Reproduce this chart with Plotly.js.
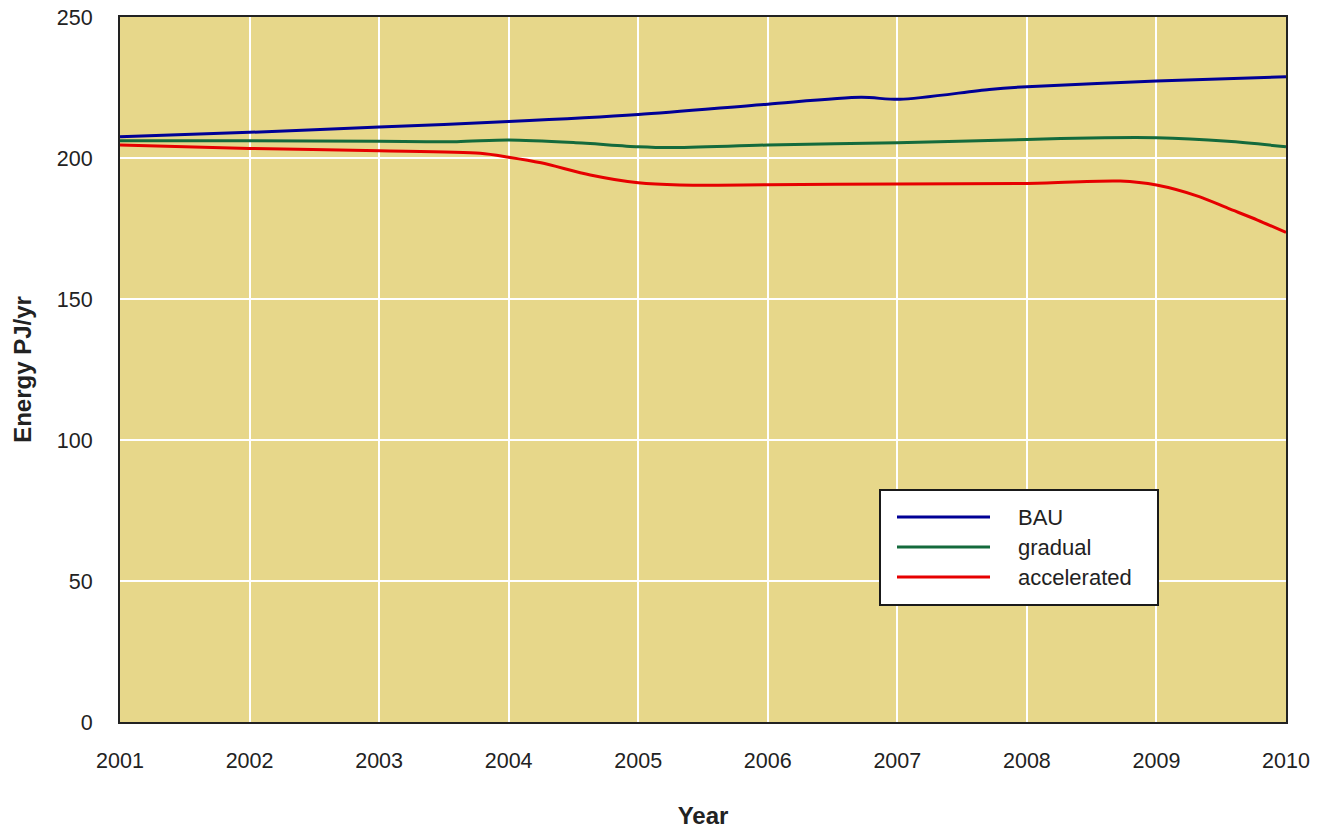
<!DOCTYPE html>
<html>
<head>
<meta charset="utf-8">
<script src="https://cdn.plot.ly/plotly-3.0.1.min.js"></script>
<style>html,body{margin:0;padding:0;background:#fff;}#chart{width:1330px;height:831px;}</style>
</head>
<body>
<div id="chart"></div>
<script>
// Data
const seriesNames = ["BAU", "gradual", "accelerated"];
const seriesColors = ["#000096", "#146a3c", "#e60000"];

const bauYears = [2001, 2002, 2003, 2004, 2005, 2006, 2006.72, 2007.02, 2007.71, 2008, 2009, 2010];
const bauValues = [207.5, 209.1, 211.0, 212.9, 215.4, 219.1, 221.5, 220.8, 224.3, 225.3, 227.3, 228.8];

const gradualYears = [2001, 2002, 2003, 2003.6, 2004, 2004.5, 2005, 2005.25, 2006, 2007, 2008, 2008.6, 2009, 2009.55, 2010];
const gradualValues = [206.1, 206.1, 205.9, 205.8, 206.4, 205.5, 204.0, 203.7, 204.6, 205.4, 206.6, 207.2, 207.2, 205.9, 204.0];

const accelYears = [2001, 2002, 2003, 2003.78, 2004, 2004.25, 2004.63, 2005, 2005.32, 2006, 2007, 2008, 2008.72, 2009, 2009.33, 2009.55, 2009.78, 2010];
const accelValues = [204.6, 203.4, 202.6, 201.7, 200.3, 198.3, 194.0, 191.2, 190.4, 190.5, 190.8, 191.0, 191.8, 190.4, 186.3, 182.2, 178.0, 173.6];

const xTickVals = [2001, 2002, 2003, 2004, 2005, 2006, 2007, 2008, 2009, 2010];
const yTickVals = [0, 50, 100, 150, 200, 250];

const seriesX = [bauYears, gradualYears, accelYears];
const seriesY = [bauValues, gradualValues, accelValues];

const traces = seriesNames.map((name, i) => ({
  type: "scatter",
  mode: "lines",
  name: name,
  x: seriesX[i],
  y: seriesY[i],
  line: {color: seriesColors[i], width: 3, shape: "spline", smoothing: 0.8},
  showlegend: false,
  hoverinfo: "x+y+name"
}));

// Custom legend box (paper coordinates)
const L = 120, R = 1286, T = 17, B = 722;
const px = v => (v - L) / (R - L);
const py = v => (B - v) / (B - T);
const shapes = [{
  type: "rect", xref: "paper", yref: "paper",
  x0: px(880), x1: px(1158), y0: py(605), y1: py(490),
  fillcolor: "#ffffff", line: {color: "#1a1a1a", width: 2}, layer: "above"
}];
const annotations = [];
seriesNames.forEach((name, i) => {
  const yy = 517 + i * 30;
  shapes.push({
    type: "line", xref: "paper", yref: "paper",
    x0: px(897), x1: px(990), y0: py(yy), y1: py(yy),
    line: {color: seriesColors[i], width: 3}, layer: "above"
  });
  annotations.push({
    xref: "paper", yref: "paper", x: px(1016), y: py(yy),
    xanchor: "left", yanchor: "middle", showarrow: false,
    text: name, font: {family: "Liberation Sans, Arial, sans-serif", size: 22, color: "#222"}
  });
});

const layout = {
  width: 1330, height: 831,
  margin: {l: 120, r: 44, t: 17, b: 109},
  paper_bgcolor: "#ffffff",
  plot_bgcolor: "#e7d78a",
  font: {family: "Liberation Sans, Arial, sans-serif", size: 21.5, color: "#222"},
  showlegend: false,
  xaxis: {
    range: [2001, 2010],
    tickvals: xTickVals,
    ticktext: xTickVals.map(String),
    showgrid: true, gridcolor: "#ffffff", gridwidth: 2,
    zeroline: false,
    showline: true, mirror: true, linecolor: "#222", linewidth: 2,
    ticks: "outside", ticklen: 18, tickcolor: "rgba(0,0,0,0)",
    tickfont: {size: 21.5, color: "#222"},
    title: {text: "<b>Year</b>", font: {size: 24, color: "#222"}, standoff: 35}
  },
  yaxis: {
    range: [0, 250],
    tickvals: yTickVals,
    showgrid: true, gridcolor: "#ffffff", gridwidth: 2,
    zeroline: false,
    showline: true, mirror: true, linecolor: "#222", linewidth: 2,
    ticks: "outside", ticklen: 21, tickcolor: "rgba(0,0,0,0)",
    tickfont: {size: 21.5, color: "#222"},
    title: {text: "<b>Energy PJ/yr</b>", font: {size: 24, color: "#222"}, standoff: 18}
  },
  shapes: shapes,
  annotations: annotations
};

Plotly.newPlot("chart", traces, layout, {displayModeBar: false, staticPlot: true});
</script>
</body>
</html>
